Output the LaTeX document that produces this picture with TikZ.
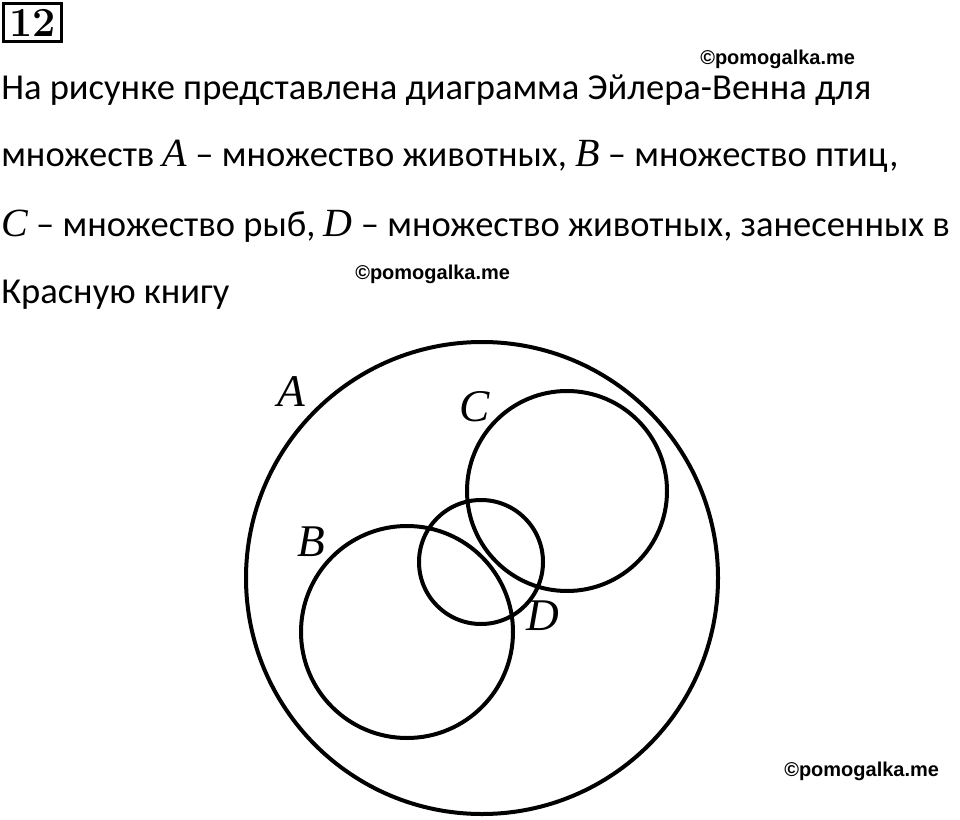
\documentclass[tikz,border=0pt]{standalone}
\usepackage{fontspec}
\newfontfamily\calibri{Carlito}
\newfontfamily\markfont{Liberation Sans}
\newfontfamily\labelfont{Liberation Serif}
\newcommand{\setname}[1]{{\labelfont\itshape\fontsize{30}{32}\selectfont #1}}
\tikzstyle{txt} = [anchor=base west, inner sep=0pt, font=\calibri\fontsize{27.4}{32}\selectfont]
\tikzstyle{wm} = [anchor=base west, inner sep=0pt, font=\markfont\bfseries\fontsize{15}{18}\selectfont]
\tikzstyle{lbl} = [inner sep=0pt, font=\labelfont\itshape\fontsize{34}{40}\selectfont]
\tikzstyle{ring} = [line width=3pt]
\tikzstyle{numbox} = [draw, line width=2.2pt, minimum width=43.5pt, minimum height=29pt, inner sep=0pt, font=\bfseries\fontsize{31}{33}\selectfont]

\begin{document}
\begin{tikzpicture}[x=0.75pt, y=-0.75pt]
\useasboundingbox (0,0) rectangle (960,820);
% Drawing header
\node (num) [numbox] at (32.5,22.5) {12};
\node (line1) [txt] at (1,100) {На рисунке представлена диаграмма Эйлера-Венна для};
\node (line2) [txt] at (1,167) {множеств \setname{A} – множество животных, \setname{B} – множество птиц,};
\node (line3) [txt] at (1,236) {\setname{C} – множество рыб, \setname{D} – множество животных, занесенных в};
\node (line4) [txt] at (1,303) {Красную книгу};
\node (wm1) [wm] at (700,65) {©pomogalka.me};
\node (wm2) [wm] at (355,279) {©pomogalka.me};
\node (wm3) [wm] at (784,776) {©pomogalka.me};

% Drawing sets
\draw [ring] (482,578) circle (236);
\draw [ring] (567,491) circle (100);
\draw [ring] (407,632) circle (106);
\draw [ring] (481,562) circle (62);

% Drawing labels
\node (labA) [lbl] at (291,392) {A};
\node (labC) [lbl] at (475,407) {C};
\node (labB) [lbl] at (311,542) {B};
\node (labD) [lbl] at (543,616) {D};
\end{tikzpicture}
\end{document}
